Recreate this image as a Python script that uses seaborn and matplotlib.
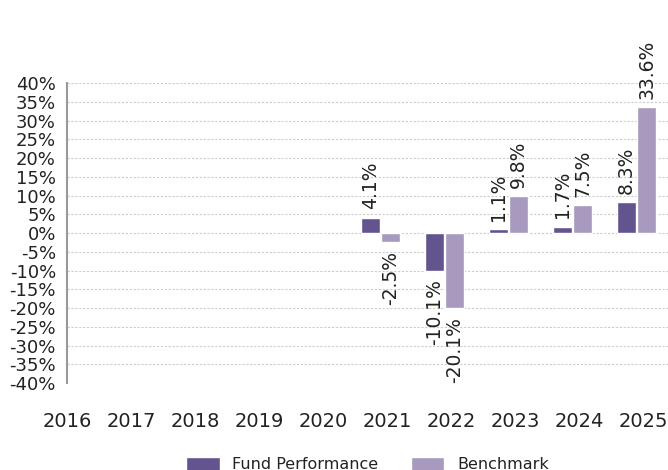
import numpy as np
import pandas as pd
import seaborn as sns
import matplotlib
matplotlib.use("Agg")
import matplotlib.pyplot as plt
from matplotlib.patches import Patch

years = ["2016", "2017", "2018", "2019", "2020", "2021", "2022", "2023", "2024", "2025"]
fund = [np.nan, np.nan, np.nan, np.nan, np.nan, 4.1, -10.1, 1.1, 1.7, 8.3]
benchmark = [np.nan, np.nan, np.nan, np.nan, np.nan, -2.5, -20.1, 9.8, 7.5, 33.6]
series_names = ["Fund Performance", "Benchmark"]
colors = ["#63548f", "#a899bf"]
y_ticks = list(range(-40, 45, 5))

df = pd.DataFrame({
    "Year": years * 2,
    "Series": [series_names[0]] * len(years) + [series_names[1]] * len(years),
    "Return": fund + benchmark,
}).dropna()

sns.set_theme(style="white")
plt.rcParams["font.family"] = ["DejaVu Sans"]

fig = plt.figure(figsize=(6.68, 4.70), dpi=100)
ax = fig.add_axes([0.1003, 0.1851, 0.8997, 0.6383])

sns.barplot(data=df, x="Year", y="Return", hue="Series", order=years,
            hue_order=series_names, palette=colors, width=0.625, gap=0.07,
            saturation=1, legend=False, ax=ax)

for cont in ax.containers:
    ax.bar_label(cont, fmt="%.1f%%", rotation=90, padding=6,
                 fontsize=13.5, color="#222222")

ax.set_xlim(0.099, 9.49)
ax.set_ylim(-40, 40)
ax.set_yticks(y_ticks)
ax.set_yticklabels([f"{t}%" for t in y_ticks])
# year labels sit a little right of each bar pair
ax.set_xticks([i + 0.1 for i in range(len(years))])
ax.set_xticklabels(years)
ax.set_xlabel("")
ax.set_ylabel("")

ax.tick_params(axis="y", length=0, pad=8, labelsize=13, labelcolor="#222222")
ax.tick_params(axis="x", length=0, pad=21, labelsize=14, labelcolor="#222222")

ax.grid(axis="y", color="#cccccc", linestyle=(0, (2, 1.5)), linewidth=0.8)
ax.grid(axis="x", visible=False)
ax.yaxis.get_gridlines()[0].set_visible(False)
ax.set_axisbelow(True)

for side in ["top", "right", "bottom"]:
    ax.spines[side].set_visible(False)
ax.spines["left"].set_color("#999999")
ax.spines["left"].set_linewidth(1.5)

handles = [Patch(facecolor=c, label=n) for c, n in zip(colors, series_names)]
fig.legend(handles=handles, loc="center", bbox_to_anchor=(0.55, 0.012),
           ncol=2, frameon=False, fontsize=11.5, handlelength=2.1,
           handleheight=1.0, handletextpad=0.8, columnspacing=2.0,
           labelcolor="#222222")

fig.savefig("out.png", dpi=100)
